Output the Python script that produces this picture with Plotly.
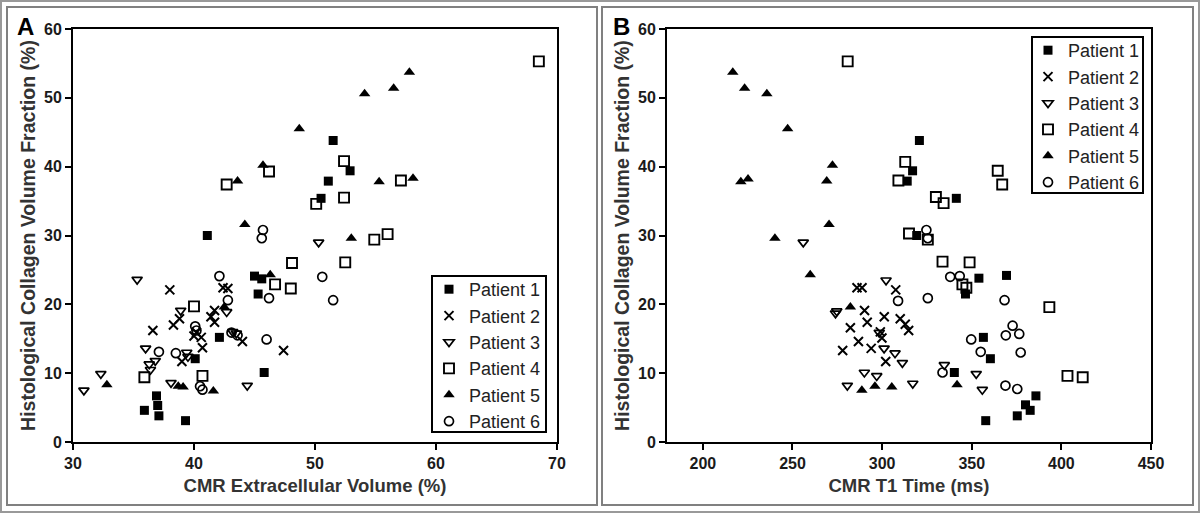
import plotly.graph_objects as go

W, H = 1200, 513

patients = ["Patient 1", "Patient 2", "Patient 3", "Patient 4", "Patient 5", "Patient 6"]

# Panel A: CMR Extracellular Volume (%) vs Histological CVF (%)
a_p1_x = [51.5, 52.9, 51.1, 50.5, 41.1, 45.0, 45.6, 45.3, 42.1, 40.1, 45.8, 36.9, 37.0, 35.9, 37.1, 39.3]
a_p1_y = [43.8, 39.4, 37.9, 35.4, 30.0, 24.1, 23.7, 21.5, 15.2, 12.1, 10.1, 6.7, 5.3, 4.6, 3.8, 3.1]
a_p2_x = [38.0, 42.4, 42.8, 41.7, 41.4, 41.7, 38.8, 38.3, 36.6, 40.0, 40.6, 44.0, 40.7, 47.4, 39.0, 40.2]
a_p2_y = [22.1, 22.4, 22.3, 19.1, 18.2, 17.4, 17.9, 17.0, 16.2, 15.4, 15.2, 14.6, 13.7, 13.3, 11.7, 15.9]
a_p3_x = [35.3, 50.3, 38.9, 42.7, 43.2, 43.5, 36.0, 39.4, 36.3, 36.8, 36.4, 32.3, 30.9, 38.1, 44.4, 39.5]
a_p3_y = [23.6, 29.0, 19.1, 18.9, 16.0, 15.8, 13.6, 13.0, 11.3, 11.8, 10.5, 9.9, 7.5, 8.6, 8.2, 12.4]
a_p4_x = [68.5, 52.4, 46.2, 42.7, 57.1, 52.4, 50.1, 56.0, 54.9, 48.1, 52.5, 46.7, 48.0, 40.0, 40.7, 35.9]
a_p4_y = [55.3, 40.8, 39.3, 37.4, 38.0, 35.5, 34.6, 30.2, 29.4, 26.0, 26.1, 22.9, 22.3, 19.7, 9.6, 9.4]
a_p5_x = [57.8, 56.5, 54.1, 48.7, 45.7, 43.6, 55.3, 58.1, 44.2, 53.0, 46.3, 42.5, 32.8, 38.7, 39.1, 41.6]
a_p5_y = [53.7, 51.4, 50.6, 45.5, 40.2, 37.9, 37.8, 38.3, 31.6, 29.6, 24.3, 19.6, 8.3, 8.1, 8.0, 7.4]
a_p6_x = [45.7, 45.6, 42.1, 50.6, 46.2, 42.8, 51.5, 40.1, 40.2, 43.1, 43.6, 46.0, 37.1, 38.5, 40.5, 40.7]
a_p6_y = [30.8, 29.6, 24.1, 24.0, 20.9, 20.6, 20.6, 16.8, 16.2, 15.9, 15.5, 14.9, 13.1, 12.9, 8.1, 7.6]

# Panel B: CMR T1 Time (ms) vs Histological CVF (%)
b_p1_x = [320.8, 317.0, 314.0, 341.4, 319.3, 369.4, 354.0, 346.5, 356.5, 360.4, 340.3, 385.8, 380.0, 382.6, 375.4, 357.8]
b_p1_y = [43.8, 39.4, 37.9, 35.4, 30.0, 24.2, 23.8, 21.5, 15.2, 12.1, 10.1, 6.7, 5.4, 4.6, 3.8, 3.1]
b_p2_x = [286.0, 288.8, 307.6, 290.2, 301.2, 310.1, 312.9, 314.8, 282.3, 291.7, 299.9, 286.8, 293.9, 278.0, 302.0, 299.0]
b_p2_y = [22.4, 22.4, 22.1, 19.1, 18.2, 17.9, 17.1, 16.2, 16.6, 17.4, 15.1, 14.6, 13.6, 13.3, 11.7, 16.0]
b_p3_x = [302.2, 256.0, 274.7, 274.0, 298.4, 301.1, 307.2, 311.3, 290.1, 297.0, 280.6, 317.1, 334.7, 352.5, 355.9]
b_p3_y = [23.5, 29.0, 19.0, 18.7, 15.9, 13.6, 12.9, 11.5, 10.1, 9.6, 8.2, 8.5, 11.2, 9.9, 7.6]
b_p4_x = [280.8, 312.9, 364.5, 309.1, 367.0, 330.0, 334.3, 315.0, 325.5, 333.7, 348.8, 344.8, 347.0, 393.3, 403.4, 411.9]
b_p4_y = [55.3, 40.7, 39.4, 38.0, 37.4, 35.6, 34.7, 30.3, 29.4, 26.2, 26.1, 22.9, 22.4, 19.6, 9.6, 9.4]
b_p5_x = [216.7, 223.3, 235.7, 247.3, 272.3, 221.2, 225.2, 269.1, 270.4, 240.2, 259.9, 282.3, 296.0, 305.4, 288.7, 341.8]
b_p5_y = [53.7, 51.4, 50.6, 45.5, 40.2, 37.8, 38.2, 37.9, 31.6, 29.6, 24.3, 19.6, 8.1, 8.0, 7.5, 8.3]
b_p6_x = [324.7, 325.5, 338.0, 343.3, 325.5, 308.9, 368.3, 372.8, 369.0, 376.5, 349.7, 355.0, 377.3, 333.7, 368.8, 375.4]
b_p6_y = [30.8, 29.6, 24.0, 24.1, 20.9, 20.5, 20.6, 16.9, 15.5, 15.7, 14.9, 13.1, 13.0, 10.1, 8.2, 7.7]

a_series = [(a_p1_x, a_p1_y), (a_p2_x, a_p2_y), (a_p3_x, a_p3_y),
            (a_p4_x, a_p4_y), (a_p5_x, a_p5_y), (a_p6_x, a_p6_y)]
b_series = [(b_p1_x, b_p1_y), (b_p2_x, b_p2_y), (b_p3_x, b_p3_y),
            (b_p4_x, b_p4_y), (b_p5_x, b_p5_y), (b_p6_x, b_p6_y)]

styles = [
    dict(symbol="square", size=9, color="black", line=dict(width=0)),
    dict(symbol="x-thin-open", size=9, color="black", line=dict(width=2, color="black")),
    dict(symbol="triangle-down-open", size=9, color="black", line=dict(width=1.7, color="black")),
    dict(symbol="square-open", size=10, color="black", line=dict(width=1.9, color="black")),
    dict(symbol="triangle-up", size=10, color="black", line=dict(width=0)),
    dict(symbol="circle-open", size=9, color="black", line=dict(width=1.7, color="black")),
]

fig = go.Figure()
for i, (xs, ys) in enumerate(a_series):
    fig.add_trace(go.Scatter(x=xs, y=ys, mode="markers", name=patients[i],
                             marker=styles[i], xaxis="x", yaxis="y",
                             legend="legend", legendgroup="a%d" % i))
for i, (xs, ys) in enumerate(b_series):
    fig.add_trace(go.Scatter(x=xs, y=ys, mode="markers", name=patients[i],
                             marker=styles[i], xaxis="x2", yaxis="y2",
                             legend="legend2", legendgroup="b%d" % i))

FONT = "Liberation Sans, Arial, sans-serif"
tickfont = dict(family=FONT, size=16, color="#1a1a1a", weight="bold")
xtitlefont = dict(family=FONT, size=18.5, color="#333333", weight="bold")
ytitlefont = dict(family=FONT, size=19.5, color="#333333", weight="bold")

def px_x(p):
    return p / W

def px_y(p):
    return 1 - p / H

ax_common = dict(showgrid=False, zeroline=False, showline=True, linecolor="black",
                 linewidth=2, mirror=True, ticks="outside", ticklen=6, tickwidth=2,
                 tickcolor="black", tickfont=tickfont, automargin=False)

ydom = [px_y(442), px_y(29)]
legend_common = dict(xanchor="left", yanchor="top", borderwidth=0,
                     bgcolor="rgba(0,0,0,0)", font=dict(family=FONT, size=18, color="#222"),
                     tracegroupgap=0, traceorder="grouped")
fig.update_layout(
    width=W, height=H, margin=dict(l=0, r=0, t=0, b=0, pad=0, autoexpand=False),
    paper_bgcolor="white", plot_bgcolor="white",
    font=dict(family=FONT),
    xaxis=dict(domain=[px_x(73), px_x(557)], range=[30, 70], dtick=10, anchor="y",
               title=dict(text="CMR Extracellular Volume (%)", font=xtitlefont, standoff=8),
               **ax_common),
    yaxis=dict(domain=ydom, range=[0, 60], dtick=10, anchor="x",
               title=dict(text="Histological Collagen Volume Fraction (%)", font=ytitlefont, standoff=3),
               **ax_common),
    xaxis2=dict(domain=[px_x(667), px_x(1151)], range=[180, 450], tickvals=[200, 250, 300, 350, 400, 450],
                anchor="y2",
                title=dict(text="CMR T1 Time (ms)", font=xtitlefont, standoff=8),
                **ax_common),
    yaxis2=dict(domain=ydom, range=[0, 60], dtick=10, anchor="x2",
                title=dict(text="Histological Collagen Volume Fraction (%)", font=ytitlefont, standoff=3),
                **ax_common),
    legend=dict(x=px_x(429), y=px_y(271), **legend_common),
    legend2=dict(x=px_x(1028), y=px_y(32), **legend_common),
    showlegend=True,
)

# panel frames and legend boxes
shapes = [
    dict(type="rect", xref="paper", yref="paper", x0=px_x(1), x1=px_x(1199), y0=px_y(512), y1=px_y(1),
         line=dict(color="#999999", width=2)),
    dict(type="rect", xref="paper", yref="paper", x0=px_x(7), x1=px_x(597), y0=px_y(505), y1=px_y(7),
         line=dict(color="#808080", width=2)),
    dict(type="rect", xref="paper", yref="paper", x0=px_x(602), x1=px_x(1193), y0=px_y(505), y1=px_y(7),
         line=dict(color="#808080", width=2)),
    dict(type="rect", xref="paper", yref="paper", x0=px_x(432), x1=px_x(546), y0=px_y(432), y1=px_y(276),
         line=dict(color="black", width=2), fillcolor="white", layer="above"),
    dict(type="rect", xref="paper", yref="paper", x0=px_x(1032), x1=px_x(1143), y0=px_y(193), y1=px_y(37),
         line=dict(color="black", width=2), fillcolor="white", layer="above"),
]
fig.update_layout(shapes=shapes)

fig.add_annotation(x=px_x(25.5), y=px_y(27), xref="paper", yref="paper", text="A", showarrow=False,
                   xanchor="center", yanchor="middle",
                   font=dict(family=FONT, size=24, color="black", weight="bold"))
fig.add_annotation(x=px_x(621.5), y=px_y(27), xref="paper", yref="paper", text="B", showarrow=False,
                   xanchor="center", yanchor="middle",
                   font=dict(family=FONT, size=24, color="black", weight="bold"))

fig.write_html("out.html", config={"displayModeBar": False},
               post_script="document.body.style.margin='0';document.body.style.overflow='hidden';")
